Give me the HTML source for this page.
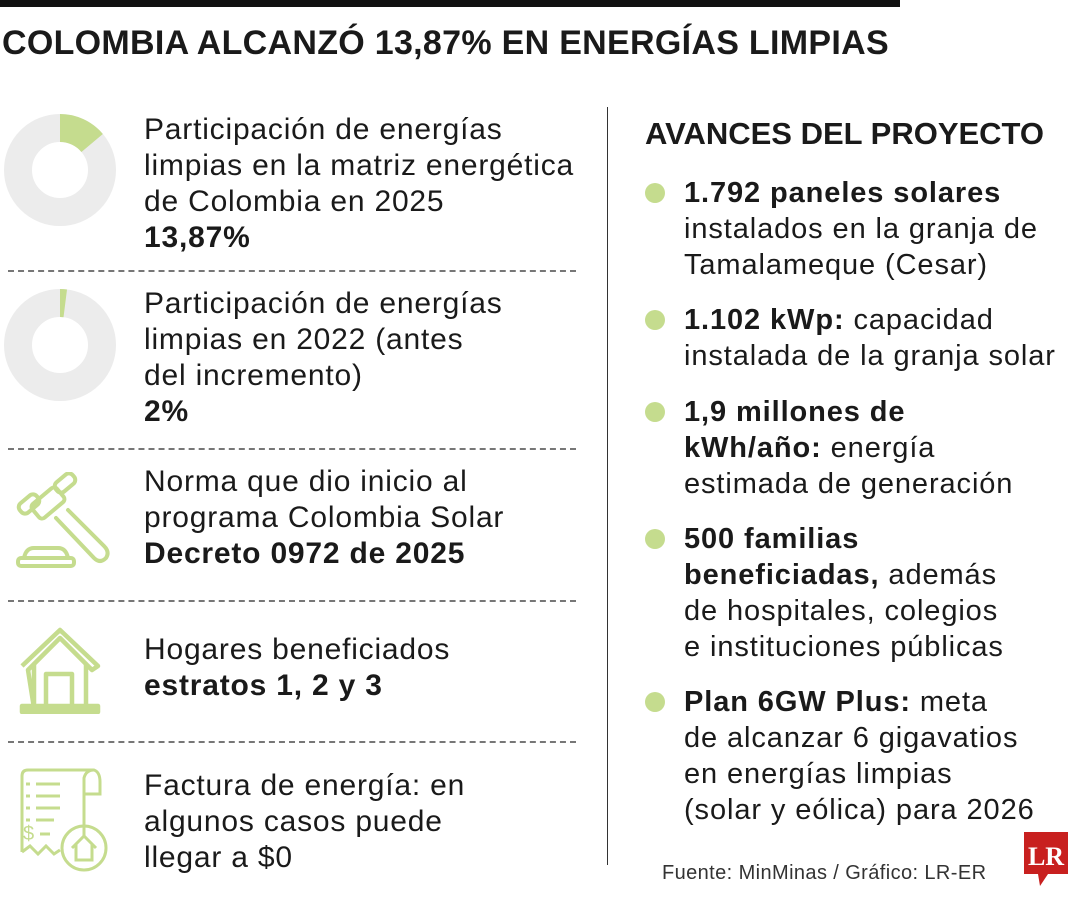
<!DOCTYPE html>
<html><head><meta charset="utf-8">
<style>
body{margin:0;width:1080px;height:900px;background:#fff;position:relative;overflow:hidden;font-family:"Liberation Sans",sans-serif;color:#1a1a1a}
.a{position:absolute}
.t{font-size:30px;line-height:36px;letter-spacing:0.8px}
.r{font-size:29px;line-height:36px;letter-spacing:0.9px}
b{font-weight:bold}
.dash{position:absolute;left:8px;width:568px;height:0;border-top:2px dashed #777}
.dot{position:absolute;left:645px;width:20px;height:20px;border-radius:50%;background:#c5dc8e}
</style></head><body>
<div class="a" style="left:0;top:0;width:900px;height:7px;background:#111"></div>
<div class="a" style="left:2px;top:24px;font-size:34px;font-weight:bold;letter-spacing:0.3px">COLOMBIA ALCANZÓ 13,87% EN ENERGÍAS LIMPIAS</div>

<svg class="a" id="donuts" style="left:0;top:100px" width="130" height="320"></svg>

<div class="a t" style="left:144px;top:112px">Participación de energías<br>limpias en la matriz energética<br>de Colombia en 2025<br><b>13,87%</b></div>
<div class="dash" style="top:270px"></div>
<div class="a t" style="left:144px;top:286px">Participación de energías<br>limpias en 2022 (antes<br>del incremento)<br><b>2%</b></div>
<div class="dash" style="top:448px"></div>

<svg class="a" style="left:12px;top:472px" width="100" height="100" viewBox="0 0 100 100" fill="none" stroke="#c5dc8e" stroke-width="4" stroke-linejoin="round" stroke-linecap="round">
<rect x="20" y="22" width="32" height="18" rx="4" transform="rotate(-40 36 31)"/>
<rect x="6" y="26" width="22" height="12" rx="5" transform="rotate(-40 17 32)"/>
<rect x="42" y="5" width="22" height="12" rx="5" transform="rotate(-40 53 11)"/>
<path d="M44 46 L82 86 Q88 92 94 86 Q98 80 92 74 L56 38"/>
<rect x="6" y="86" width="56" height="8" rx="3"/><path d="M12 86 Q14 76 22 76 L46 76 Q54 76 56 86"/>
</svg>
<div class="a t" style="left:144px;top:464px">Norma que dio inicio al<br>programa Colombia Solar<br><b>Decreto 0972 de 2025</b></div>
<div class="dash" style="top:600px"></div>

<svg class="a" style="left:16px;top:626px" width="88" height="88" viewBox="0 0 88 88" fill="none" stroke="#c5dc8e" stroke-width="4.5" stroke-linejoin="round">
<path d="M6 40 L44 4 L82 40 L76 44 L70 38 L70 82 M18 82 L18 38 L12 44 Z"/><path d="M18 38 L44 12 L70 38"/>
<rect x="30" y="48" width="26" height="34"/><rect x="6" y="80" width="76" height="6" fill="#c5dc8e"/>
</svg>
<div class="a t" style="left:144px;top:632px">Hogares beneficiados<br><b>estratos 1, 2 y 3</b></div>
<div class="dash" style="top:741px"></div>

<svg class="a" style="left:14px;top:768px" width="94" height="106" viewBox="0 0 94 106" fill="none" stroke="#c5dc8e" stroke-width="3">
<path d="M8 84 L8 8 Q8 2 14 2 L80 2 Q86 4 86 14 L86 26 L70 26 L70 70"/><path d="M70 26 L70 10 Q72 2 80 2"/>
<path d="M8 84 L16 78 L24 86 L32 78 L40 86 L46 82"/>
<path d="M12 16h4M22 16h24M12 28h4M22 28h24M12 40h4M22 40h24M12 52h4M22 52h18M26 66h10"/>
<text x="9" y="72" fill="#c5dc8e" stroke="none" font-size="20" font-family="Liberation Sans">$</text>
<circle cx="70" cy="80" r="22"/><path d="M58 80 L70 68 L82 80 M62 76 L62 92 L78 92 L78 76"/>
</svg>
<div class="a t" style="left:144px;top:768px">Factura de energía: en<br>algunos casos puede<br>llegar a $0</div>

<div class="a" style="left:607px;top:107px;width:1px;height:758px;background:#333"></div>

<div class="a" style="left:645px;top:116px;font-size:31px;font-weight:bold;letter-spacing:0px">AVANCES DEL PROYECTO</div>
<div class="dot" style="top:183px"></div>
<div class="a r" style="left:684px;top:175px"><b>1.792 paneles solares</b><br>instalados en la granja de<br>Tamalameque (Cesar)</div>
<div class="dot" style="top:310px"></div>
<div class="a r" style="left:684px;top:302px"><b>1.102 kWp:</b> capacidad<br>instalada de la granja solar</div>
<div class="dot" style="top:402px"></div>
<div class="a r" style="left:684px;top:394px"><b>1,9 millones de<br>kWh/año:</b> energía<br>estimada de generación</div>
<div class="dot" style="top:529px"></div>
<div class="a r" style="left:684px;top:521px"><b>500 familias<br>beneficiadas,</b> además<br>de hospitales, colegios<br>e instituciones públicas</div>
<div class="dot" style="top:692px"></div>
<div class="a r" style="left:684px;top:684px"><b>Plan 6GW Plus:</b> meta<br>de alcanzar 6 gigavatios<br>en energías limpias<br>(solar y eólica) para 2026</div>

<div class="a" style="left:662px;top:862px;font-size:20px;color:#333;letter-spacing:0.4px">Fuente: MinMinas / Gráfico: LR-ER</div>
<svg class="a" style="left:1022px;top:830px" width="48" height="60" viewBox="0 0 48 60">
<path d="M2 2 H46 V44 H26 L18 56 L16 44 H2 Z" fill="#c8201f"/>
<text x="24" y="35" text-anchor="middle" fill="#fff" font-family="Liberation Serif" font-weight="bold" font-size="26">LR</text>
</svg>

<script>
const donutLabels = ["2025","2022"];
const donutValues = [13.87, 2];
const svg = document.getElementById('donuts');
const NS = 'http://www.w3.org/2000/svg';
function arcPath(cx, cy, R, r, pct){
  const a = pct/100*2*Math.PI;
  const x1 = cx + R*Math.sin(a), y1 = cy - R*Math.cos(a);
  const x2 = cx + r*Math.sin(a), y2 = cy - r*Math.cos(a);
  const lg = pct>50?1:0;
  return `M${cx} ${cy-R} A${R} ${R} 0 ${lg} 1 ${x1} ${y1} L${x2} ${y2} A${r} ${r} 0 ${lg} 0 ${cx} ${cy-r} Z`;
}
const centers = [70, 245];
donutValues.forEach((v,i)=>{
  const cx=60, cy=centers[i], R=56, r=28;
  const ring=document.createElementNS(NS,'circle');
  
  
  ring.setAttribute('cx',cx);ring.setAttribute('cy',cy);ring.setAttribute('r',(R+r)/2);
  ring.setAttribute('fill','none');ring.setAttribute('stroke','#ececec');ring.setAttribute('stroke-width',R-r);
  svg.appendChild(ring);
  const p=document.createElementNS(NS,'path');
  
  
  p.setAttribute('d',arcPath(cx,cy,R,r,v));
  p.setAttribute('fill','#c5dc8e');
  svg.appendChild(p);
});
</script>
</body></html>
